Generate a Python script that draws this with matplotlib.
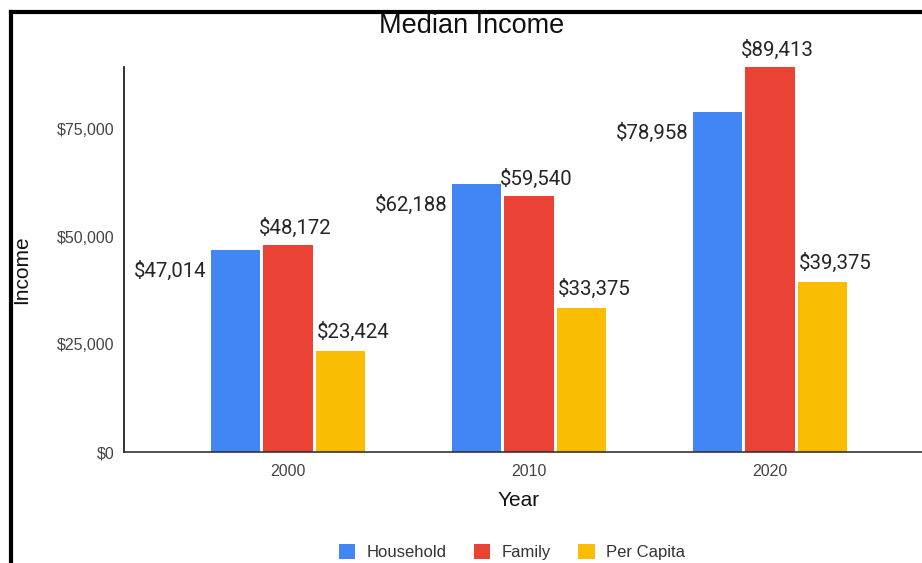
import numpy as np
import matplotlib.pyplot as plt
from matplotlib.lines import Line2D
from matplotlib.patches import Patch
from matplotlib.ticker import FuncFormatter

# Median income by year
years = ['2000', '2010', '2020']
household = [47014, 62188, 78958]
family = [48172, 59540, 89413]
per_capita = [23424, 33375, 39375]

series_names = ['Household', 'Family', 'Per Capita']
colors = ['#4285F4', '#EA4335', '#FBBC04']

fig = plt.figure(figsize=(9.22, 5.63), dpi=100)
ax = fig.add_axes([124 / 922, 1 - 452 / 563, 1 - 124 / 922, (452 - 67) / 563])

x = np.arange(len(years))
w = 0.205
step = 0.218
bars_h = ax.bar(x - step, household, w, color=colors[0])
bars_f = ax.bar(x, family, w, color=colors[1])
bars_p = ax.bar(x + step, per_capita, w, color=colors[2])

ax.set_xlim(-0.68, 2.63)
ax.set_ylim(0, 89413)
ax.set_yticks([0, 25000, 50000, 75000])
ax.yaxis.set_major_formatter(FuncFormatter(lambda v, p: f'${v:,.0f}'))
ax.set_xticks(x)
ax.set_xticklabels(years)
ax.tick_params(length=0, labelsize=11.5, colors='#444444')
ax.tick_params(axis='x', pad=9)
ax.tick_params(axis='y', pad=7)
for lbl in ax.get_xticklabels() + ax.get_yticklabels():
    lbl.set_family('Liberation Sans')

for side in ['top', 'right']:
    ax.spines[side].set_visible(False)
ax.spines['left'].set_color('#111111')
ax.spines['bottom'].set_color('#333333')
ax.spines['left'].set_linewidth(1.2)
ax.spines['bottom'].set_linewidth(1.2)

lab_kw = dict(fontsize=14.7, family='Roboto', color='#252525', textcoords='offset points')
for b, v in zip(bars_h, household):
    ax.annotate(f'${v:,}', (b.get_x(), v), xytext=(-3, -15), ha='right', va='center', **lab_kw)
for b, v in zip(bars_f, family):
    ax.annotate(f'${v:,}', (b.get_x(), v), xytext=(-3, 12), ha='left', va='center', **lab_kw)
for b, v in zip(bars_p, per_capita):
    ax.annotate(f'${v:,}', (b.get_x(), v), xytext=(1, 14), ha='left', va='center', **lab_kw)

fig.text(472 / 922, 1 - 33 / 563, 'Median Income', ha='center', va='baseline',
         fontsize=19.5, family='Liberation Sans', color='#111111')
fig.text(22 / 922, 1 - 270 / 563, 'Income', rotation=90, ha='center', va='center',
         fontsize=15, family='Liberation Sans', color='#111111')
fig.text(519 / 922, 1 - 500 / 563, 'Year', ha='center', va='center',
         fontsize=15, family='Liberation Sans', color='#111111')

handles = [Patch(facecolor=c, edgecolor='none') for c in colors]
leg = fig.legend(handles, series_names, loc='center', bbox_to_anchor=(512 / 922, 1 - 552 / 563),
                 ncol=3, frameon=False, handlelength=1.0, handleheight=1.0,
                 handletextpad=0.7, columnspacing=1.6,
                 prop={'family': 'Liberation Sans', 'size': 12})
for t in leg.get_texts():
    t.set_color('#333333')

# frame on the left and top
fig.add_artist(Line2D([11 / 922, 11 / 922], [0, 1 - 12 / 563], color='black', lw=3,
                      solid_capstyle='projecting', transform=fig.transFigure))
fig.add_artist(Line2D([11 / 922, 1], [1 - 12 / 563, 1 - 12 / 563], color='black', lw=3,
                      solid_capstyle='projecting', transform=fig.transFigure))

fig.savefig('out.png', dpi=100)
